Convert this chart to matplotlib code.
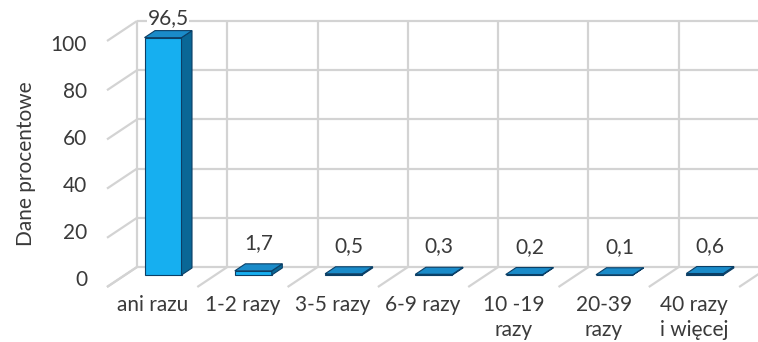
import matplotlib
matplotlib.use("Agg")
import matplotlib.pyplot as plt
from matplotlib.patches import Polygon
import numpy as np

plt.rcParams['font.family'] = ['Lato', 'DejaVu Sans']

categories = ['ani razu', '1-2 razy', '3-5 razy', '6-9 razy',
              '10 -19\nrazy', '20-39\nrazy', '40 razy\ni więcej']
values = [96.5, 1.7, 0.5, 0.3, 0.2, 0.1, 0.6]
yticks = [0, 20, 40, 60, 80, 100]
ylabel = 'Dane procentowe'

# oblique projection: one category = 90.3 px, one percent = 2.46 px
px_cat = 90.3
px_val = 2.46
dx = 30 / px_cat          # depth shift of the box, in category units
dy = 20 / px_val          # depth shift of the box, in value units

W, H = 758, 342
x0_px, y0_px = 107, 287   # front-left corner of the floor

fig = plt.figure(figsize=(W / 100, H / 100), dpi=100)
ax = fig.add_axes([0, 0, 1, 1])
ax.set_xlim(-x0_px / px_cat, (W - x0_px) / px_cat)
ax.set_ylim((y0_px - H) / px_val, y0_px / px_val)
ax.axis('off')

grid = dict(color='#d3d3d3', lw=1.6, zorder=1, solid_capstyle='butt')
n = len(categories)
ymax = yticks[-1]

# back wall
for t in yticks:
    ax.plot([dx, n + 1 + dx], [t + dy, t + dy], **grid)
for k in range(n + 1):
    ax.plot([k + dx, k + dx], [dy, ymax + dy], **grid)
# side wall and floor
for t in yticks:
    ax.plot([0, dx], [t, t + dy], **grid)
for k in range(n + 2):
    ax.plot([k, k + dx], [0, dy], **grid)

text_col = '#3a3a3a'
fs = 15
for t in yticks:
    ax.text(-0.22, t * 0.955 + 2.85, str(t), ha='right', va='center',
            fontsize=fs, color=text_col)
ax.text(-0.9, 50, ylabel, rotation=90, ha='center', va='center',
        fontsize=fs, color=text_col)

# 3D columns
d_front, d_back = 0.6, 0.95
bw = 37 / px_cat
front_col = '#16aff0'
side_col = '#0a6796'
top_col = '#1a8bc9'
edge_col = '#0b3f66'
for i, v in enumerate(values):
    xl = i + 0.216
    xr = xl + bw
    fx, fy = d_front * dx, d_front * dy
    bx, by = d_back * dx, d_back * dy
    front = [(xl + fx, fy), (xr + fx, fy), (xr + fx, v + fy), (xl + fx, v + fy)]
    side = [(xr + fx, fy), (xr + bx, by), (xr + bx, v + by), (xr + fx, v + fy)]
    top = [(xl + fx, v + fy), (xr + fx, v + fy), (xr + bx, v + by), (xl + bx, v + by)]
    for pts, c in ((front, front_col), (side, side_col), (top, top_col)):
        ax.add_patch(Polygon(pts, closed=True, fc=c, ec=edge_col, lw=0.8, zorder=3))
    lx = (xl + xr) / 2 + (fx + bx) / 2
    ly = min(v + by + 8.5, 109.5)
    ax.text(lx, ly, f'{v:.1f}'.replace('.', ','), ha='center', va='center',
            fontsize=fs, color=text_col, zorder=4,
            bbox=dict(fc='white', ec='none', pad=0.5))

# category labels
for i, c in enumerate(categories):
    ax.text(i + 0.5, (y0_px - 295) / px_val, c, ha='center', va='top',
            fontsize=fs, color=text_col, linespacing=1.3)

fig.savefig('out.png', dpi=100)
